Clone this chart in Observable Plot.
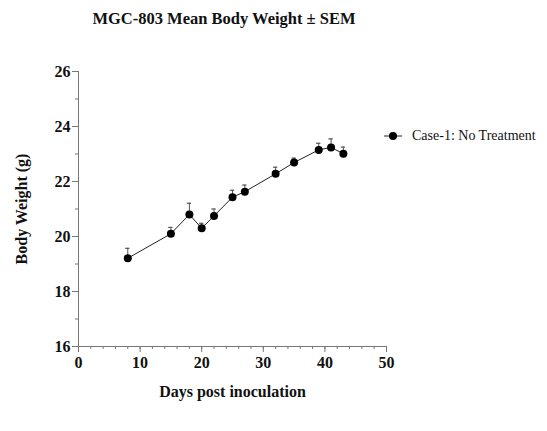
<!DOCTYPE html>
<html>
<head>
<meta charset="utf-8">
<script src="https://cdn.jsdelivr.net/npm/d3@7"></script>
<script src="https://cdn.jsdelivr.net/npm/@observablehq/plot@0.6"></script>
<style>
  html, body { margin: 0; padding: 0; background: #fff; }
  #wrap { position: relative; width: 547px; height: 431px; font-family: "Liberation Serif", "Times New Roman", serif; }
  #title { position: absolute; left: 0; width: 448px; top: 9px; text-align: center; font-weight: bold; font-size: 16.5px; color: #111; }
  #legend { position: absolute; left: 384px; top: 128px; display: flex; align-items: center; font-size: 14px; color: #111; }
  #legend svg { margin-right: 10px; }
</style>
</head>
<body>
<div id="wrap">
  <div id="title">MGC-803 Mean Body Weight ± SEM</div>
  <div id="legend"></div>
  <div id="chart"></div>
</div>
<script>
const days = [8, 15, 18, 20, 22, 25, 27, 32, 35, 39, 41, 43];
const meanWeight = [19.21, 20.10, 20.80, 20.30, 20.75, 21.43, 21.63, 22.28, 22.69, 23.15, 23.24, 23.01];
const sem = [0.36, 0.23, 0.41, 0.18, 0.25, 0.25, 0.24, 0.24, 0.16, 0.24, 0.31, 0.24];
const xMajorTicks = [0, 10, 20, 30, 40, 50];
const xMinorTicks = d3.range(0, 51, 2);
const yMajorTicks = [16, 18, 20, 22, 24, 26];
const yMinorTicks = d3.range(16, 27, 1);
const xDomain = [0, 50];
const yDomain = [16, 26];
const seriesName = "Case-1: No Treatment";

const data = days.map((d, i) => ({day: d, mean: meanWeight[i], top: meanWeight[i] + sem[i]}));
const capHalf = 0.35;
const axisColor = "#777";
const fontStack = "'Liberation Serif', 'Times New Roman', serif";

const chart = Plot.plot({
  width: 547,
  height: 431,
  marginLeft: 78,
  marginRight: 161,
  marginTop: 71,
  marginBottom: 85,
  style: {fontFamily: fontStack, fontSize: "16px", fontWeight: "bold", color: "#111", background: "transparent"},
  x: {domain: xDomain},
  y: {domain: yDomain},
  marks: [
    Plot.ruleY([yDomain[0]], {x1: xDomain[0], x2: xDomain[1], stroke: axisColor}),
    Plot.ruleX([xDomain[0]], {y1: yDomain[0], y2: yDomain[1], stroke: axisColor}),
    Plot.axisX(xMinorTicks, {tickSize: 3, tickFormat: () => "", label: null, stroke: axisColor}),
    Plot.axisX(xMajorTicks, {tickSize: 6, tickPadding: 4, fontSize: 16, fontWeight: "bold", label: "Days post inoculation", labelAnchor: "center", labelArrow: "none", labelOffset: 50, stroke: axisColor, fill: "#111"}),
    Plot.axisY(yMinorTicks, {tickSize: 3, tickFormat: () => "", label: null, stroke: axisColor}),
    Plot.axisY(yMajorTicks, {tickSize: 6, tickPadding: 2, fontSize: 16, fontWeight: "bold", label: "Body Weight (g)", labelAnchor: "center", labelArrow: "none", labelOffset: 63, stroke: axisColor, fill: "#111"}),
    Plot.ruleX(data, {x: "day", y1: "mean", y2: "top", stroke: "#555", strokeWidth: 1}),
    Plot.ruleY(data, {y: "top", x1: d => d.day - capHalf, x2: d => d.day + capHalf, stroke: "#555", strokeWidth: 1.2}),
    Plot.line(data, {x: "day", y: "mean", stroke: "#222", strokeWidth: 1}),
    Plot.dot(data, {x: "day", y: "mean", r: 4, fill: "#000", stroke: "none"})
  ]
});
document.getElementById("chart").appendChild(chart);

const legend = document.getElementById("legend");
legend.innerHTML = `<svg width="18" height="10"><line x1="0" x2="18" y1="5" y2="5" stroke="#222" stroke-width="1"/><circle cx="9" cy="5" r="4" fill="#000"/></svg><span>${seriesName}</span>`;
</script>
</body>
</html>
